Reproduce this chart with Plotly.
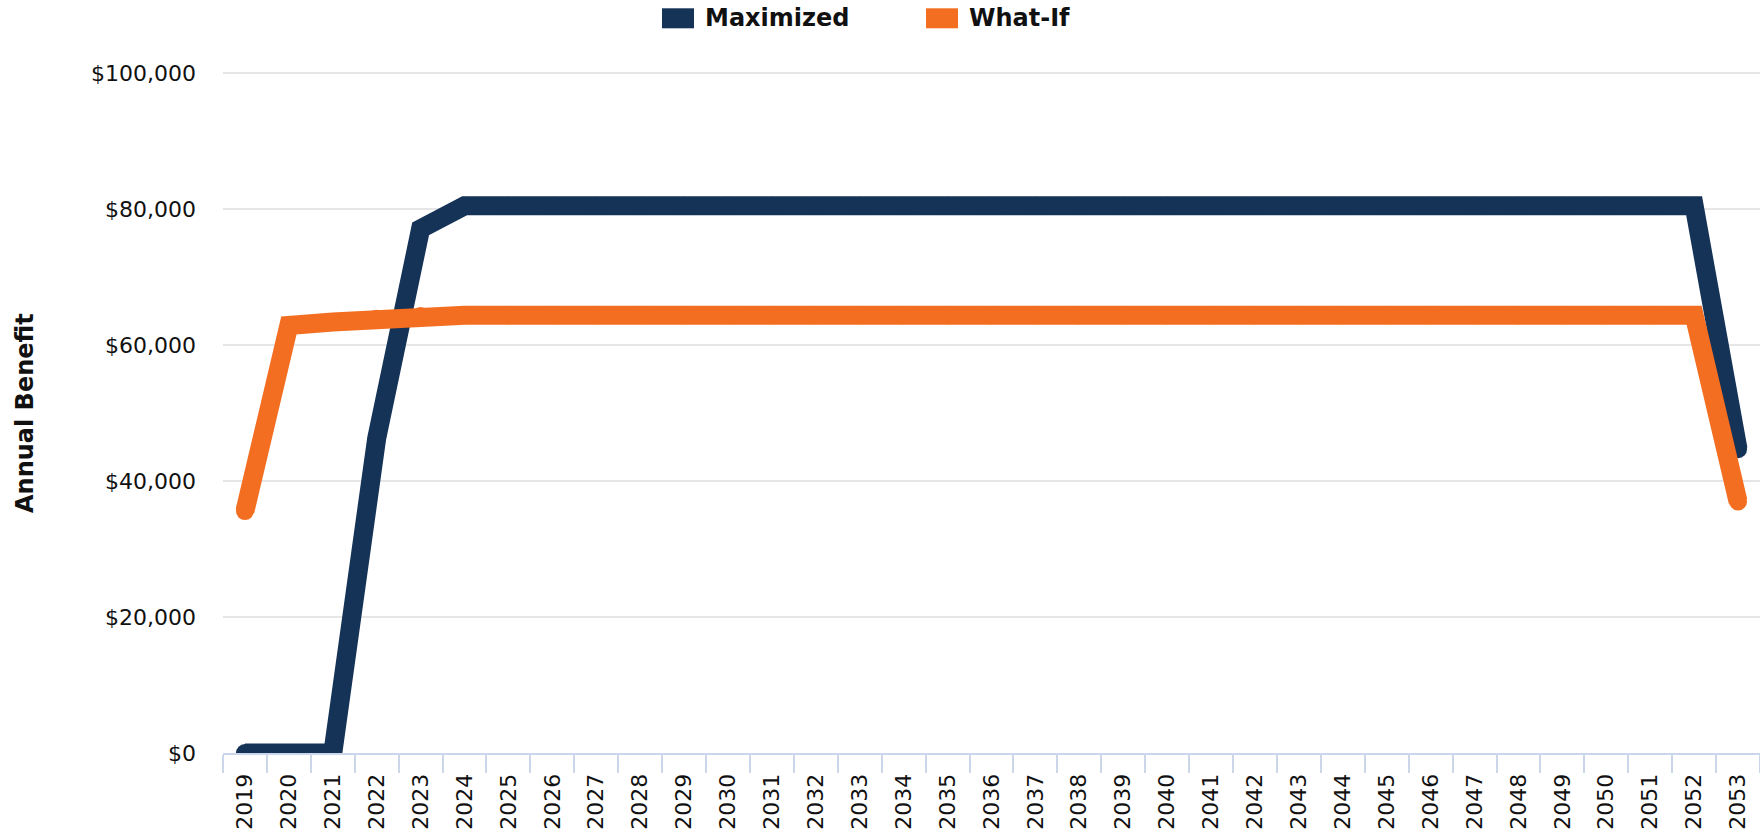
import plotly.graph_objects as go

years = [str(y) for y in range(2019, 2054)]
maximized = [0, 0, 0, 46300, 77100] + [80500] * 29 + [44700]
what_if = [35600, 62900, 63400, 63900, 64300] + [64400] * 29 + [37000]

series_names = ["Maximized", "What-If"]
series_colors = ["#153257", "#f36e21"]
y_ticks = [0, 20000, 40000, 60000, 80000, 100000]
y_tick_labels = ["$0", "$20,000", "$40,000", "$60,000", "$80,000", "$100,000"]
y_title = "Annual Benefit"

W, H = 1760, 835
ML, MR, MT, MB = 223, 0, 63, 82
PW, PH = W - ML - MR, H - MT - MB
YMAX = 101515


def px_x(p):
    return (p - ML) / PW


def px_y(p):
    return (H - MB - p) / PH


fig = go.Figure()
for name, vals, col in zip(series_names, [maximized, what_if], series_colors):
    fig.add_trace(go.Scatter(
        x=years, y=vals, name=name, mode="lines+markers",
        line=dict(color=col, width=19),
        marker=dict(color=col, size=18, line=dict(width=0)),
        showlegend=False, hoverinfo="x+y",
    ))

FONT = "DejaVu Sans"

legend_pos = [(662, 705), (926, 969)]
shapes = []
annotations = []
for (sx, tx), name, col in zip(legend_pos, series_names, series_colors):
    shapes.append(dict(type="rect", xref="paper", yref="paper",
                       x0=px_x(sx), x1=px_x(sx + 32), y0=px_y(28.3), y1=px_y(8.3),
                       fillcolor=col, line=dict(width=0)))
    annotations.append(dict(xref="paper", yref="paper", x=px_x(tx - 1), y=px_y(18.5),
                            xanchor="left", yanchor="middle", showarrow=False,
                            borderpad=0,
                            text="<b>%s</b>" % name,
                            font=dict(family=FONT, size=24, color="#111111")))

annotations.append(dict(xref="paper", yref="paper", x=px_x(25), y=px_y(413),
                        xanchor="center", yanchor="middle", showarrow=False,
                        textangle=-90, borderpad=0,
                        text="<b>%s</b>" % y_title,
                        font=dict(family=FONT, size=24, color="#111111")))

fig.update_layout(
    width=W, height=H,
    margin=dict(l=ML, r=MR, t=MT, b=MB, pad=0),
    paper_bgcolor="white", plot_bgcolor="white",
    font=dict(family=FONT, color="#111111"),
    showlegend=False,
    shapes=shapes, annotations=annotations,
    xaxis=dict(
        type="category", categoryorder="array", categoryarray=years,
        range=[-0.5, len(years) - 0.5],
        tickangle=-90, tickfont=dict(family=FONT, size=22, color="#111111"),
        ticks="outside", tickson="boundaries", ticklen=18, tickwidth=2, tickcolor="#ccd6eb",
        ticklabelstandoff=10,
        showline=True, linecolor="#ccd6eb", linewidth=2,
        showgrid=False, zeroline=False, automargin=False, fixedrange=True,
    ),
    yaxis=dict(
        range=[0, YMAX], tickvals=y_ticks, ticktext=y_tick_labels,
        tickfont=dict(family=FONT, size=22, color="#111111"),
        ticklabelstandoff=26,
        showgrid=True, gridcolor="#e6e6e6", gridwidth=2,
        zeroline=False, showline=False, automargin=False, fixedrange=True,
    ),
)

fig.write_html("out.html",
               config={"displayModeBar": False},
               post_script="document.body.style.margin='0';document.body.style.overflow='hidden';")
